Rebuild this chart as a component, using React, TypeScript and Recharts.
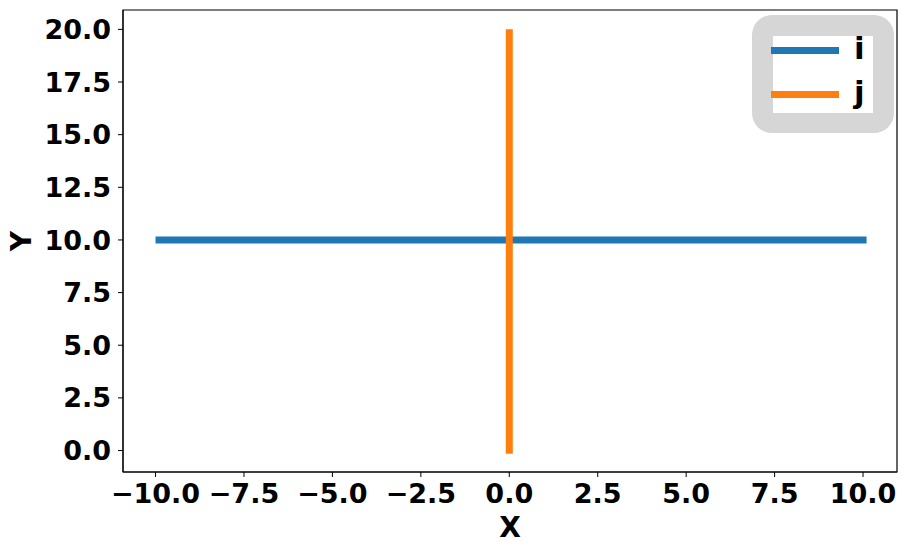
import React from "react";
import {
  LineChart,
  Line,
  XAxis,
  YAxis,
  ReferenceArea,
  Label,
} from "recharts";

// series i: horizontal line at y = 10
const seriesI = [
  { x: -10, y: 10 },
  { x: 10.1, y: 10 },
];

// series j: vertical line at x = 0
const seriesJ = [
  { x: 0, y: -0.15 },
  { x: 0, y: 20 },
];

const xTicks = [-10, -7.5, -5, -2.5, 0, 2.5, 5, 7.5, 10];
const yTicks = [0, 2.5, 5, 7.5, 10, 12.5, 15, 17.5, 20];

const X_DOMAIN: [number, number] = [-10.92, 10.96];
const Y_DOMAIN: [number, number] = [-1.02, 20.92];

const BLUE = "#1f77b4";
const ORANGE = "#ff7f0e";
const FONT = "DejaVu Sans, sans-serif";

const fmt = (v: number) => (v < 0 ? "\u2212" : "") + Math.abs(v).toFixed(1);

const tickStyle = { fill: "#000", fontSize: 27, fontWeight: 700, fontFamily: FONT };

const legendItems = [
  { name: "i", color: BLUE, top: 14 },
  { name: "j", color: ORANGE, top: 58 },
];

// matplotlib-like legend: grey rounded frame around a white box
const LegendBox = () => (
  <div
    style={{
      position: "absolute",
      left: 752,
      top: 15,
      width: 142,
      height: 118,
      boxSizing: "border-box",
      background: "#d6d6d6",
      borderRadius: 20,
      padding: 21,
      fontFamily: FONT,
    }}
  >
    <div style={{ position: "relative", width: 100, height: 77, background: "#fff" }}>
      {legendItems.map((item) => (
        <React.Fragment key={item.name}>
          <div
            style={{
              position: "absolute",
              left: -2,
              top: item.top - 3.5,
              width: 68,
              height: 7,
              background: item.color,
            }}
          />
          <div
            style={{
              position: "absolute",
              left: 81,
              top: item.top - 20,
              fontSize: 31,
              fontWeight: 700,
              lineHeight: "36px",
              color: "#000",
            }}
          >
            {item.name}
          </div>
        </React.Fragment>
      ))}
    </div>
  </div>
);

export default function App() {
  return (
    <div style={{ position: "relative", width: 908, height: 554, background: "#fff", fontFamily: FONT }}>
      <style>{"body{margin:0}"}</style>
      <LineChart
        width={908}
        height={554}
        margin={{ top: 10, right: 11, bottom: 0, left: 0 }}
      >
        <XAxis
          dataKey="x"
          type="number"
          domain={X_DOMAIN}
          ticks={xTicks}
          tickFormatter={fmt}
          tick={tickStyle}
          tickSize={5}
          tickMargin={7}
          height={82}
          allowDataOverflow
          stroke="#000"
          interval={0}
        >
          <Label
            content={({ viewBox }: any) => (
              <text
                x={viewBox.x + viewBox.width / 2}
                y={537}
                textAnchor="middle"
                fontSize={28}
                fontWeight={700}
                fontFamily={FONT}
                fill="#000"
              >
                X
              </text>
            )}
          />
        </XAxis>
        <YAxis
          dataKey="y"
          type="number"
          domain={Y_DOMAIN}
          ticks={yTicks}
          tickFormatter={fmt}
          tick={tickStyle}
          tickSize={5}
          tickMargin={7}
          width={123}
          allowDataOverflow
          stroke="#000"
          interval={0}
        >
          <Label
            content={({ viewBox }: any) => {
              const cy = viewBox.y + viewBox.height / 2;
              return (
                <text
                  x={31}
                  y={cy}
                  textAnchor="middle"
                  fontSize={28}
                  fontWeight={700}
                  fontFamily={FONT}
                  fill="#000"
                  transform={`rotate(-90 31 ${cy})`}
                >
                  Y
                </text>
              );
            }}
          />
        </YAxis>
        <ReferenceArea
          x1={X_DOMAIN[0]}
          x2={X_DOMAIN[1]}
          y1={Y_DOMAIN[0]}
          y2={Y_DOMAIN[1]}
          fill="none"
          stroke="#000"
          strokeWidth={1.2}
          fillOpacity={0}
        />
        <Line
          data={seriesI}
          dataKey="y"
          name="i"
          stroke={BLUE}
          strokeWidth={7}
          dot={false}
          activeDot={false}
          isAnimationActive={false}
        />
        <Line
          data={seriesJ}
          dataKey="y"
          name="j"
          stroke={ORANGE}
          strokeWidth={7}
          dot={false}
          activeDot={false}
          isAnimationActive={false}
        />
      </LineChart>
      <LegendBox />
    </div>
  );
}
